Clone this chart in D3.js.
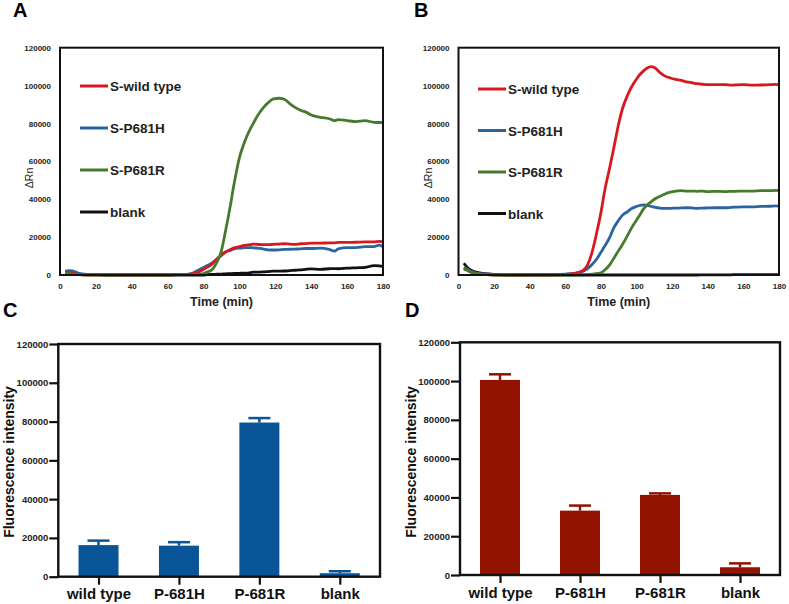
<!DOCTYPE html>
<html><head><meta charset="utf-8">
<script src="https://cdn.jsdelivr.net/npm/d3@7"></script>
<style>
body{margin:0;background:#fff;}
svg{display:block;font-family:Arial,"Liberation Sans",sans-serif;}
</style></head>
<body><svg id="c" width="789" height="604"></svg>
<script>
// ---- data ----
const times = [3,5,7,10,15,20,30,40,50,60,65,70,72,75,78,80,82,85,87,90,92,95,97,100,102,104,106,108,110,113,116,119,122,125,128,131,134,137,140,145,150,153,155,160,165,170,175,178,180];
const seriesNames = ["S-wild type","S-P681H","S-P681R","blank"];
const seriesColors = ["#d7191f","#2a65a0","#467a2c","#111111"];

const aWild  = [1500,1500,1000,300,0,0,0,0,0,0,200,300,400,1000,2000,3000,4000,6000,8000,10500,12000,13500,14300,15000,15500,15800,16000,16300,16200,16000,16000,16200,16300,16500,16300,16200,16500,16600,16800,16800,17000,17000,17200,17200,17300,17500,17500,17700,17500];
const aP681H = [2000,2300,2200,1000,300,200,0,0,0,0,200,300,500,1500,3000,4000,5000,6500,8000,10500,12000,13000,13800,14200,14300,14500,14500,14300,14200,13800,13300,13200,13300,13500,13600,13700,13800,14000,14000,14200,13500,12600,13800,14500,14500,15000,15000,15800,14800];
const aP681R = [1000,800,500,200,0,0,0,0,0,0,200,300,200,300,500,800,1500,3000,6000,13000,22000,37000,48000,62000,68000,73000,77000,80500,84000,88000,91000,93000,93300,92800,90500,88500,87000,86000,84500,83200,82500,81500,82000,81500,81000,81500,80600,80500,80600];
const aBlank = [1500,1800,1500,500,300,200,0,0,0,0,0,0,0,0,0,0,200,300,400,500,600,700,800,900,1000,1000,1200,1500,1500,1600,1800,2000,2000,2100,2300,2500,2700,3000,3200,3000,3300,3400,3300,3600,3800,4000,5000,4800,4500];

const bWild  = [3500,2500,1500,800,300,0,0,0,0,300,800,2500,4500,12000,24000,33000,44000,57000,66000,80000,87500,95000,99000,103500,106000,107800,109300,110000,109500,107000,105000,104000,103300,102800,102000,101500,101000,100700,100500,100500,100500,100200,100300,100500,100200,100300,100500,100600,100300];
const bP681H = [4000,3000,2000,1000,400,200,0,200,300,500,800,2000,3000,5500,9000,12000,15000,20000,24500,29000,31500,33500,35000,36200,36800,37000,36800,36300,35800,35300,35200,35200,35300,35400,35500,35400,35200,35300,35400,35500,35500,35700,35800,36000,36000,36200,36300,36500,36400];
const bP681R = [3000,2500,1500,800,300,0,0,0,0,0,0,100,200,400,800,1200,2500,5500,8500,13000,16000,21000,24500,29000,32000,35000,37000,38500,40000,41500,42800,43700,44300,44500,44300,44300,44200,44300,44000,44200,44000,44200,44200,44300,44300,44500,44500,44700,44500];
const bBlank = [6200,4000,2500,1500,700,300,0,0,0,0,0,0,0,0,0,0,0,0,0,0,0,0,0,0,0,0,0,0,0,0,0,0,0,0,0,0,0,100,100,100,100,100,200,200,200,200,200,200,200];

const timeTicks = [0,20,40,60,80,100,120,140,160,180];
const rnTicks = [0,20000,40000,60000,80000,100000,120000];

const categories = ["wild type","P-681H","P-681R","blank"];
const cValues = [16300,16000,79500,1800];
const cErrors = [2300,1800,2300,1000];
const dValues = [100600,33200,41300,4000];
const dErrors = [2900,2600,800,2000];
const barTicks = [0,20000,40000,60000,80000,100000,120000];

// ---- drawing ----
const svg = d3.select("#c");

function letter(x,y,t){
  svg.append("text").attr("x",x).attr("y",y).attr("font-size",20).attr("font-weight","bold").text(t);
}

function linePanel(box, data, legend){
  const x = d3.scaleLinear().domain([0,180]).range([box.l,box.r]);
  const y = d3.scaleLinear().domain([0,120000]).range([box.b,box.t]);
  const g = svg.append("g");
  const ya = g.append("g").attr("transform",`translate(${box.l-9},0)`)
    .call(d3.axisLeft(y).tickValues(rnTicks).tickSize(0).tickPadding(0).tickFormat(d3.format("d")));
  ya.select(".domain").remove();
  ya.selectAll("text").attr("font-size",8).attr("font-weight","bold").attr("fill","#222").attr("font-family","Arial,'Liberation Sans',sans-serif");
  const xa = g.append("g").attr("transform",`translate(0,${box.b+6})`)
    .call(d3.axisBottom(x).tickValues(timeTicks).tickSize(0).tickPadding(2).tickFormat(d3.format("d")));
  xa.select(".domain").remove();
  xa.selectAll("text").attr("font-size",8).attr("font-weight","bold").attr("fill","#222").attr("font-family","Arial,'Liberation Sans',sans-serif");
  const line = d3.line().x((d,i)=>x(times[i])).y(d=>y(d)).curve(d3.curveMonotoneX);
  const order = [3,1,0,2];
  order.forEach(k=>{
    g.append("path").attr("d",line(data[k])).attr("fill","none")
      .attr("stroke",seriesColors[k]).attr("stroke-width",2.8).attr("stroke-linejoin","round");
  });
  g.append("rect").attr("x",box.l).attr("y",box.t).attr("width",box.r-box.l).attr("height",box.b-box.t)
    .attr("fill","none").attr("stroke","#111").attr("stroke-width",2);
  seriesNames.forEach((n,i)=>{
    const yy = legend.y0 + i*legend.dy;
    g.append("line").attr("x1",legend.x).attr("x2",legend.x+28).attr("y1",yy).attr("y2",yy)
      .attr("stroke",seriesColors[i]).attr("stroke-width",3);
    g.append("text").attr("x",legend.x+30).attr("y",yy+5).attr("font-size",13.5).attr("font-weight","bold").attr("fill","#222").text(n);
  });
  g.append("text").attr("x",(box.l+box.r)/2).attr("y",306).attr("text-anchor","middle")
    .attr("font-size",12.5).attr("font-weight","bold").attr("fill","#222").text("Time (min)");
  g.append("text").attr("transform",`translate(${box.l-27},178) rotate(-90)`).attr("text-anchor","middle")
    .attr("font-size",10.5).attr("fill","#222").text("\u0394Rn");
}

function barPanel(box, vals, errs, color){
  const x = d3.scalePoint().domain(categories).range([box.l,box.r]).padding(0.5);
  const y = d3.scaleLinear().domain([0,120000]).range([box.b,box.t]);
  const g = svg.append("g");
  const bw = 40;
  categories.forEach((c,i)=>{
    const cx = x(c);
    g.append("rect").attr("x",cx-bw/2).attr("y",y(vals[i])).attr("width",bw).attr("height",box.b-y(vals[i])).attr("fill",color);
    g.append("line").attr("x1",cx).attr("x2",cx).attr("y1",y(vals[i])).attr("y2",y(vals[i]+errs[i])).attr("stroke",color).attr("stroke-width",2.5);
    g.append("line").attr("x1",cx-11).attr("x2",cx+11).attr("y1",y(vals[i]+errs[i])).attr("y2",y(vals[i]+errs[i])).attr("stroke",color).attr("stroke-width",2.5);
  });
  const ya = g.append("g").attr("transform",`translate(${box.l},0)`)
    .call(d3.axisLeft(y).tickValues(barTicks).tickSize(9).tickPadding(1).tickFormat(d3.format("d")));
  ya.select(".domain").remove();
  ya.selectAll("line").attr("stroke","#111").attr("stroke-width",2.2);
  ya.selectAll("text").attr("font-size",9.5).attr("font-weight","bold").attr("fill","#222").attr("font-family","Arial,'Liberation Sans',sans-serif");
  const xa = g.append("g").attr("transform",`translate(0,${box.b})`)
    .call(d3.axisBottom(x).tickSize(8).tickPadding(4));
  xa.select(".domain").remove();
  xa.selectAll("line").attr("stroke","#111").attr("stroke-width",2.2);
  xa.selectAll("text").attr("font-size",15).attr("font-weight","bold").attr("fill","#111").attr("font-family","Arial,'Liberation Sans',sans-serif");
  g.append("rect").attr("x",box.l).attr("y",box.t).attr("width",box.r-box.l).attr("height",box.b-box.t)
    .attr("fill","none").attr("stroke","#111").attr("stroke-width",2.4);
  g.append("text").attr("transform",`translate(${box.l-44},462) rotate(-90)`).attr("text-anchor","middle")
    .attr("font-size",14).attr("font-weight","bold").attr("fill","#111").text("Fluorescence intensity");
}

letter(13,17,"A"); letter(414,17,"B"); letter(3,317,"C"); letter(405,317,"D");
linePanel({l:60,r:383,t:47.7,b:275},[aWild,aP681H,aP681R,aBlank],{x:80,y0:86,dy:42});
linePanel({l:458.5,r:779,t:47.7,b:275},[bWild,bP681H,bP681R,bBlank],{x:478,y0:89,dy:41.5});
barPanel({l:58.3,r:380,t:344,b:576.7},cValues,cErrors,"#0a5597");
barPanel({l:460,r:780,t:342.3,b:575},dValues,dErrors,"#921300");
</script></body></html>
